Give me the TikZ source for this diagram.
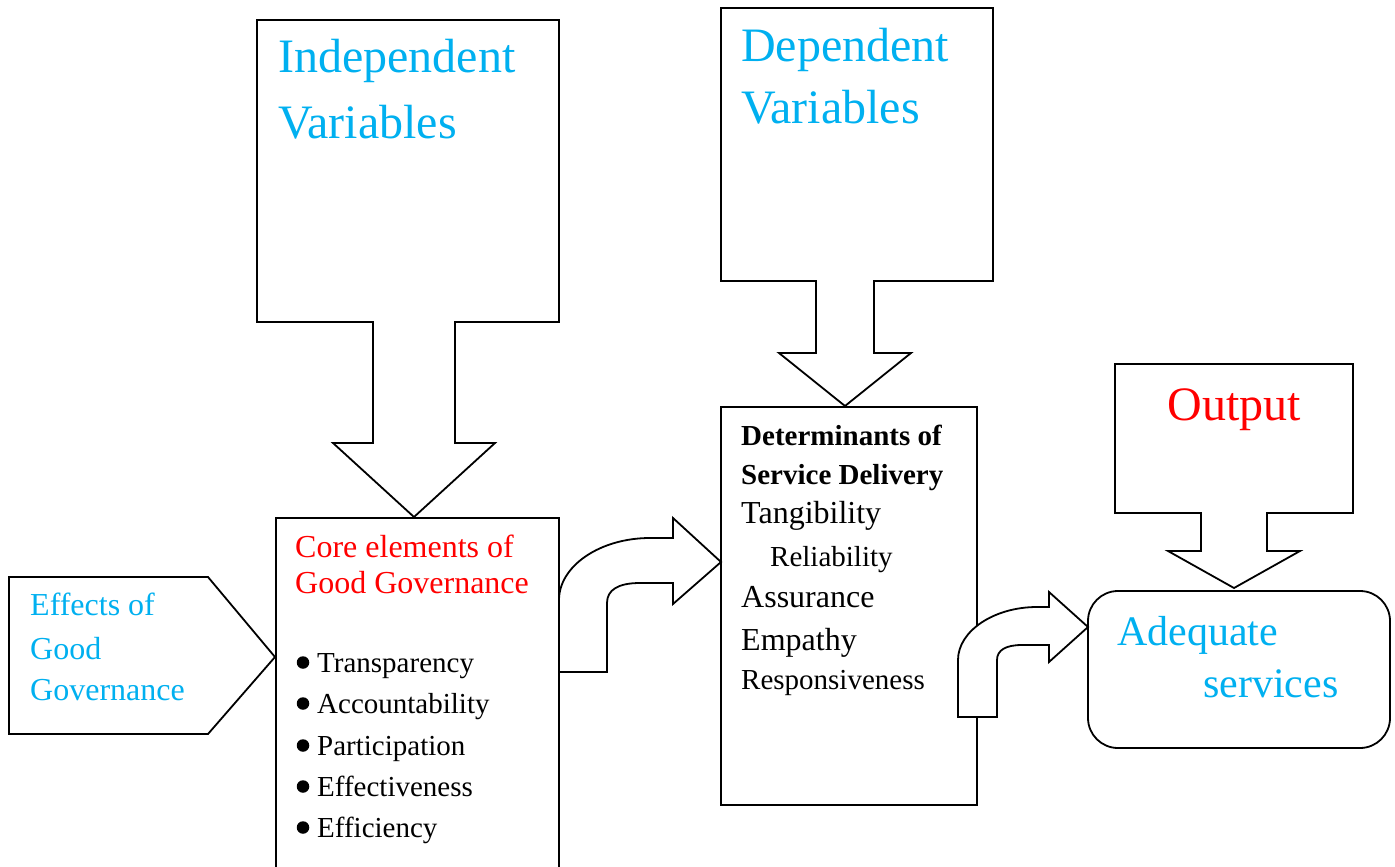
\documentclass[tikz,border=0pt]{standalone}
\usepackage{fontspec}
\setmainfont{Liberation Serif}
\definecolor{skyblue}{HTML}{00B0F0}
\definecolor{headred}{HTML}{FF0000}
\newcommand{\fs}[1]{\fontsize{#1}{#1}\selectfont}
\tikzset{
  shapeline/.style={draw=black, line width=1.8pt, fill=white, line join=miter},
  txt/.style={inner sep=0pt, anchor=base west},
  bulletdot/.style={circle, fill=black, inner sep=0pt, minimum size=12.5pt},
}
\begin{document}
\begin{tikzpicture}[x=1pt, y=-1pt]
\useasboundingbox (0,0) rectangle (1395,867);
\clip (0,0) rectangle (1395,867);
\fill[white] (0,0) rectangle (1395,867);

% plain boxes
\draw[shapeline] (276,880) -- (276,518) -- (559,518) -- (559,880);
\draw[shapeline] (721,407) rectangle (977,805);
\draw[shapeline, rounded corners=30pt] (1088,591) rectangle (1390,748);

% pentagon label box
\draw[shapeline] (9,577) -- (208,577) -- (275,657) -- (208,734) -- (9,734) -- cycle;
\coordinate (effTip) at (275,657);

% callout with down arrow: independent variables
\draw[shapeline] (257,20) -- (559,20) -- (559,322) -- (455,322) -- (455,443) -- (495,443)
  -- (414,517) -- (333,443) -- (373,443) -- (373,322) -- (257,322) -- cycle;
% callout with down arrow: dependent variables
\draw[shapeline] (721,8) -- (993,8) -- (993,281) -- (874,281) -- (874,353) -- (911,353)
  -- (845,406) -- (779,353) -- (816,353) -- (816,281) -- (721,281) -- cycle;
% callout with down arrow: output
\draw[shapeline] (1115,364) -- (1353,364) -- (1353,513) -- (1267,513) -- (1267,551) -- (1300,551)
  -- (1234,588) -- (1168,551) -- (1201,551) -- (1201,513) -- (1115,513) -- cycle;

% bent-up arrows
\draw[shapeline] (559,672) -- (607,672) -- (607,603)
  .. controls (607,590) and (618,583) .. (640,583) -- (673,583) -- (673,604) -- (721,562)
  -- (673,518) -- (673,538) -- (650,538)
  .. controls (600,538) and (559,566) .. (559,600) -- cycle;
\draw[shapeline] (958,717) -- (997,717) -- (997,660)
  .. controls (997,650) and (1006,645) .. (1022,645) -- (1049,645) -- (1049,662) -- (1088,627)
  -- (1049,592) -- (1049,607) -- (1037,607)
  .. controls (994,607) and (958,631) .. (958,660) -- cycle;

% texts
\node[txt, text=skyblue, font=\fs{48}] (indep1) at (278,73) {Independent};
\node[txt, text=skyblue, font=\fs{48}] (indep2) at (278,138) {Variables};
\node[txt, text=skyblue, font=\fs{48}] (dep1) at (741,62) {Dependent};
\node[txt, text=skyblue, font=\fs{48}] (dep2) at (741,123) {Variables};
\node[txt, text=headred, font=\fs{48}, anchor=base] (out) at (1234,420) {Output};
\node[txt, text=skyblue, font=\fs{42}] (adeq1) at (1117,645) {Adequate};
\node[txt, text=skyblue, font=\fs{42}] (adeq2) at (1203,697) {services};

\node[txt, text=skyblue, font=\fs{32}] (eff1) at (30,615) {Effects of};
\node[txt, text=skyblue, font=\fs{32}] (eff2) at (30,659) {Good};
\node[txt, text=skyblue, font=\fs{32}] (eff3) at (30,700) {Governance};

\node[txt, text=headred, font=\fs{32}] (core1) at (295,557) {Core elements of};
\node[txt, text=headred, font=\fs{32}] (core2) at (295,593) {Good Governance};

\foreach \nm/\lbl/\yy in {b1/Transparency/672, b2/Accountability/713, b3/Participation/755,
                          b4/Effectiveness/796, b5/Efficiency/837} {
  \node[bulletdot] (\nm dot) at (303,\yy-9.5) {};
  \node[txt, font=\fs{29}] (\nm) at (317,\yy) {\lbl};
}

\node[txt, font=\fs{29}\bfseries] (det1) at (741,445) {Determinants of};
\node[txt, font=\fs{29}\bfseries] (det2) at (741,484) {Service Delivery};
\node[txt, font=\fs{32}] (d1) at (741,523) {Tangibility};
\node[txt, font=\fs{29}] (d2) at (770,566) {Reliability};
\node[txt, font=\fs{32}] (d3) at (741,607) {Assurance};
\node[txt, font=\fs{32}] (d4) at (741,650) {Empathy};
\node[txt, font=\fs{29}] (d5) at (741,689) {Responsiveness};
\end{tikzpicture}
\end{document}
